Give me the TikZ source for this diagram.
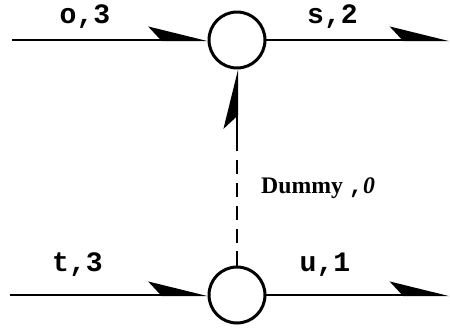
\documentclass[tikz,border=0pt]{standalone}
\usepackage{fontspec}
\setmonofont{Liberation Mono}
\setmainfont{Liberation Serif}
\usetikzlibrary{arrows.meta}

\tikzset{
  event/.style={circle, draw, line width=1.7pt, minimum size=1.12cm, inner sep=0pt},
  activity/.style={line width=1.2pt, -{Stealth[harpoon, length=1.1cm, width=0.54cm, inset=0.25cm]}},
  lbl/.style={font=\fontsize{16}{19}\selectfont\ttfamily\bfseries}
}

\begin{document}
\begin{tikzpicture}
  \useasboundingbox (0,0) rectangle (9,6.54);

  % Events
  \node[event] (top) at (4.74,5.74) {};
  \node[event] (bot) at (4.74,0.64) {};

  % Free ends
  \coordinate (oin) at (0.24,5.74);
  \coordinate (sout) at (8.98,5.74);
  \coordinate (tin) at (0.2,0.64);
  \coordinate (uout) at (8.98,0.64);
  \coordinate (dmid) at (4.74,3.76);

  % Activities
  \draw[activity] (oin) -- (top.west);
  \draw[activity] (top.east) -- (sout);
  \draw[activity] (tin) -- (bot.west);
  \draw[activity] (bot.east) -- (uout);

  % Dummy activity
  \draw[line width=1.2pt, dash pattern=on 8pt off 5pt] (bot.north) -- (dmid);
  \draw[activity] (dmid) -- (top.south);

  % Labels
  \node[lbl] (o3) at (1.7,6.2) {o,3};
  \node[lbl] (s2) at (6.65,6.2) {s,2};
  \node[lbl] (t3) at (1.55,1.24) {t,3};
  \node[lbl] (u1) at (6.5,1.24) {u,1};
  \node[anchor=west, font=\fontsize{13.5}{16}\selectfont\bfseries] (dum) at (5.1,2.78) {Dummy \texttt{,}\textit{0}};
\end{tikzpicture}
\end{document}
